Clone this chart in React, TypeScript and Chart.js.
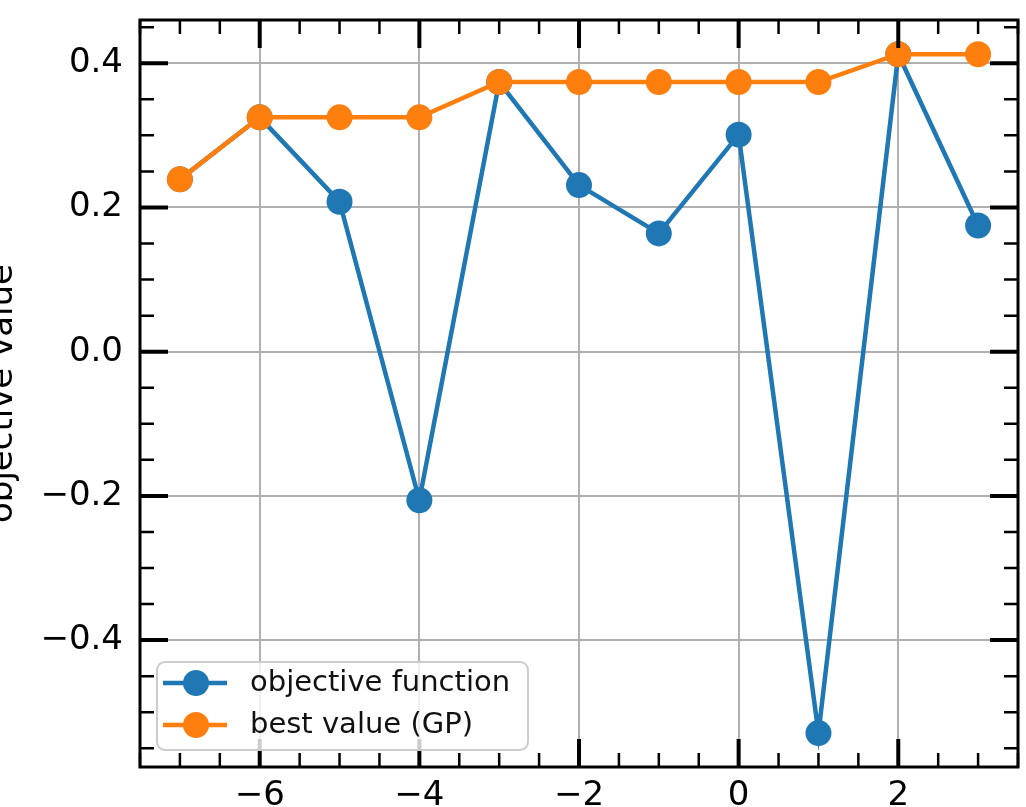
import React, { useEffect, useRef } from "react";
import { Chart, registerables } from "chart.js";

Chart.register(...registerables);

// ---- data ----
const xValues = [-7, -6, -5, -4, -3, -2, -1, 0, 1, 2, 3];
const objectiveValues = [0.239, 0.325, 0.208, -0.206, 0.374, 0.231, 0.164, 0.301, -0.529, 0.4125, 0.175];
const bestValues = [0.239, 0.325, 0.325, 0.325, 0.374, 0.374, 0.374, 0.374, 0.374, 0.4125, 0.4125];
const seriesLabels = ["objective function", "best value (GP)"];
const xTicks = [-6, -4, -2, 0, 2];
const yTicks = [-0.4, -0.2, 0.0, 0.2, 0.4];
const yAxisLabel = "objective value";

const BLUE = "#1f77b4";
const ORANGE = "#ff7f0e";
const FONT = "'DejaVu Sans', sans-serif";

const fmtMinus = (s: string) => s.replace("-", "\u2212");

const axesPlugin = {
  id: "mplAxes",
  afterDatasetsDraw(chart: any) {
    const { ctx, chartArea: a, scales } = chart;
    const x = scales.x;
    const y = scales.y;
    ctx.save();
    ctx.strokeStyle = "#000";
    const majorLen = 28;
    const minorLen = 14;
    const drawXT = (v: number, len: number, lw: number) => {
      const px = x.getPixelForValue(v);
      ctx.lineWidth = lw;
      ctx.beginPath();
      ctx.moveTo(px, a.bottom);
      ctx.lineTo(px, a.bottom - len);
      ctx.moveTo(px, a.top);
      ctx.lineTo(px, a.top + len);
      ctx.stroke();
    };
    const drawYT = (v: number, len: number, lw: number) => {
      const py = y.getPixelForValue(v);
      ctx.lineWidth = lw;
      ctx.beginPath();
      ctx.moveTo(a.left, py);
      ctx.lineTo(a.left + len, py);
      ctx.moveTo(a.right, py);
      ctx.lineTo(a.right - len, py);
      ctx.stroke();
    };
    for (let k = Math.ceil(x.min / 0.5); k <= Math.floor(x.max / 0.5); k++) {
      if (k % 4 === 0) continue;
      drawXT(k * 0.5, minorLen, 2.5);
    }
    for (let k = Math.ceil(y.min / 0.05); k <= Math.floor(y.max / 0.05); k++) {
      if (k % 4 === 0) continue;
      drawYT(k * 0.05, minorLen, 2.5);
    }
    xTicks.forEach((v) => drawXT(v, majorLen, 4));
    yTicks.forEach((v) => drawYT(v, majorLen, 4));
    ctx.lineWidth = 3;
    ctx.strokeRect(a.left, a.top, a.right - a.left, a.bottom - a.top);
    ctx.restore();
  },
  afterDraw(chart: any) {
    const { ctx, chartArea: a } = chart;
    ctx.save();
    // y axis label (mostly cut off at the left edge)
    ctx.translate(12, (a.top + a.bottom) / 2);
    ctx.rotate(-Math.PI / 2);
    ctx.font = `34px ${FONT}`;
    ctx.fillStyle = "#000";
    ctx.textAlign = "center";
    ctx.textBaseline = "alphabetic";
    ctx.fillText(yAxisLabel, 0, 0);
    ctx.restore();

    // legend
    ctx.save();
    const bx = 157, by = 662, bw = 371, bh = 88, r = 8;
    ctx.beginPath();
    ctx.moveTo(bx + r, by);
    ctx.arcTo(bx + bw, by, bx + bw, by + bh, r);
    ctx.arcTo(bx + bw, by + bh, bx, by + bh, r);
    ctx.arcTo(bx, by + bh, bx, by, r);
    ctx.arcTo(bx, by, bx + bw, by, r);
    ctx.closePath();
    ctx.fillStyle = "rgba(255,255,255,0.8)";
    ctx.fill();
    ctx.strokeStyle = "#cccccc";
    ctx.lineWidth = 2;
    ctx.stroke();
    const colors = [BLUE, ORANGE];
    const rows = [683, 725];
    seriesLabels.forEach((lab, i) => {
      const yy = rows[i];
      ctx.strokeStyle = colors[i];
      ctx.lineWidth = 4.5;
      ctx.beginPath();
      ctx.moveTo(163, yy);
      ctx.lineTo(227, yy);
      ctx.stroke();
      ctx.fillStyle = colors[i];
      ctx.beginPath();
      ctx.arc(196, yy, 13, 0, Math.PI * 2);
      ctx.fill();
      ctx.fillStyle = "#111";
      ctx.font = `29px ${FONT}`;
      ctx.textAlign = "left";
      ctx.textBaseline = "middle";
      ctx.fillText(lab, 250, yy);
    });
    ctx.restore();
  },
};

export default function App() {
  const ref = useRef<HTMLCanvasElement>(null);
  useEffect(() => {
    if (!ref.current) return;
    const chart = new Chart(ref.current, {
      type: "line",
      data: {
        datasets: [
          {
            label: seriesLabels[0],
            data: xValues.map((v, i) => ({ x: v, y: objectiveValues[i] })),
            borderColor: BLUE,
            backgroundColor: BLUE,
            borderWidth: 4.5,
            pointRadius: 13,
            pointHoverRadius: 13,
            pointBorderWidth: 0,
            order: 1,
          },
          {
            label: seriesLabels[1],
            data: xValues.map((v, i) => ({ x: v, y: bestValues[i] })),
            borderColor: ORANGE,
            backgroundColor: ORANGE,
            borderWidth: 4.5,
            pointRadius: 13,
            pointHoverRadius: 13,
            pointBorderWidth: 0,
            order: 0,
          },
        ],
      },
      options: {
        responsive: false,
        animation: false,
        layout: { autoPadding: false, padding: { left: 0, top: 20, right: 8, bottom: 0 } },
        plugins: { legend: { display: false }, tooltip: { enabled: false } },
        scales: {
          x: {
            type: "linear",
            min: -7.5,
            max: 3.5,
            afterBuildTicks: (s: any) => {
              s.ticks = xTicks.map((v) => ({ value: v }));
            },
            afterFit: (s: any) => {
              s.height = 40;
              s.paddingLeft = 0;
              s.paddingRight = 0;
            },
            ticks: {
              padding: 9,
              color: "#000",
              font: { family: FONT, size: 34 },
              maxRotation: 0,
              callback: (v: any) => fmtMinus(String(v)),
            },
            grid: { color: "#b0b0b0", lineWidth: 2, drawTicks: false },
            border: { display: false },
          },
          y: {
            type: "linear",
            min: -0.576,
            max: 0.46,
            afterBuildTicks: (s: any) => {
              s.ticks = yTicks.map((v) => ({ value: v }));
            },
            afterFit: (s: any) => {
              s.width = 140;
              s.paddingTop = 0;
              s.paddingBottom = 0;
            },
            ticks: {
              padding: 17,
              color: "#000",
              font: { family: FONT, size: 34 },
              callback: (v: any) => fmtMinus(Number(v).toFixed(1)),
            },
            grid: { color: "#b0b0b0", lineWidth: 2, drawTicks: false },
            border: { display: false },
          },
        },
      },
      plugins: [axesPlugin],
    });
    return () => chart.destroy();
  }, []);
  return (
    <div style={{ position: "fixed", left: 0, top: 0, width: 1026, height: 807, background: "#fff" }}>
      <canvas ref={ref} width={1026} height={807} style={{ display: "block" }} />
    </div>
  );
}
